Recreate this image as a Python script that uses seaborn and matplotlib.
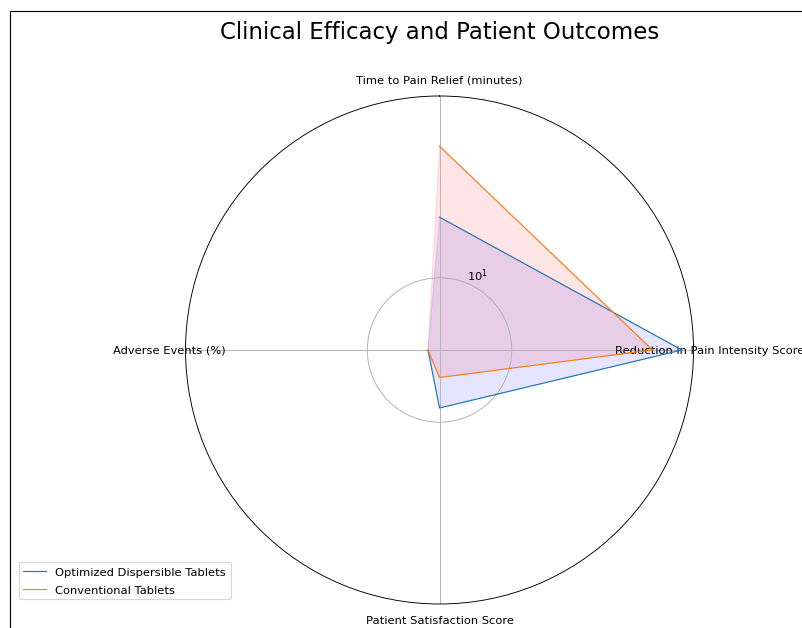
import numpy as np
import pandas as pd
import seaborn as sns
import matplotlib.pyplot as plt
from matplotlib.patches import Rectangle

categories = ['Time to Pain Relief (minutes)', 'Reduction in Pain Intensity Score',
              'Patient Satisfaction Score', 'Adverse Events (%)']
optimized = [20, 70, 8.5, 5]
conventional = [45, 50, 6, 5]
series_names = ['Optimized Dispersible Tablets', 'Conventional Tablets']

angles = np.linspace(0, 2 * np.pi, len(categories), endpoint=False).tolist()
angles += angles[:1]

rows = []
for name, vals in zip(series_names, [optimized, conventional]):
    closed = vals + vals[:1]
    for i, (a, v) in enumerate(zip(angles, closed)):
        rows.append({'series': name, 'order': i, 'angle': a, 'value': v})
df = pd.DataFrame(rows)

palette = sns.color_palette()[:2]
fills = ['blue', 'red']

# drawn at a larger size, saved at a lower dpi -> 802x629
fig = plt.figure(figsize=(9.71, 7.615))
ax = fig.add_axes([184 / 802, 24 / 629, 511 / 802, 508 / 629], polar=True)
ax.set_theta_offset(np.pi / 2)
ax.set_theta_direction(-1)
ax.set_rscale('log')

for name, col, fc in zip(series_names, palette, fills):
    d = df[df['series'] == name]
    sns.lineplot(data=d, x='angle', y='value', sort=False, ax=ax, color=col,
                 linewidth=1, label=name)
    ax.fill(d['angle'], d['value'], color=fc, alpha=0.1)

ax.set_xticks(angles[:-1])
ax.set_xticklabels(categories)
ax.set_xlabel('')
ax.set_ylabel('')

# log-space margins as in the reference
lo, hi = np.log10(df['value'].min()), np.log10(df['value'].max())
span = hi - lo
ax.set_ylim(10 ** (lo - 0.05 * span), 10 ** (hi + 0.05 * span))

ax.set_title('Clinical Efficacy and Patient Outcomes', fontsize=20, y=1.1)
ax.legend(loc='upper right', bbox_to_anchor=(0.1, 0.094), labelspacing=0.7)

fig.patches.append(Rectangle((9.5 / 802, -0.2), 1.5, (629 - 12) / 629 + 0.2,
                             transform=fig.transFigure, fill=False,
                             edgecolor='black', linewidth=1))

fig.savefig('out.png', dpi=82.6)
